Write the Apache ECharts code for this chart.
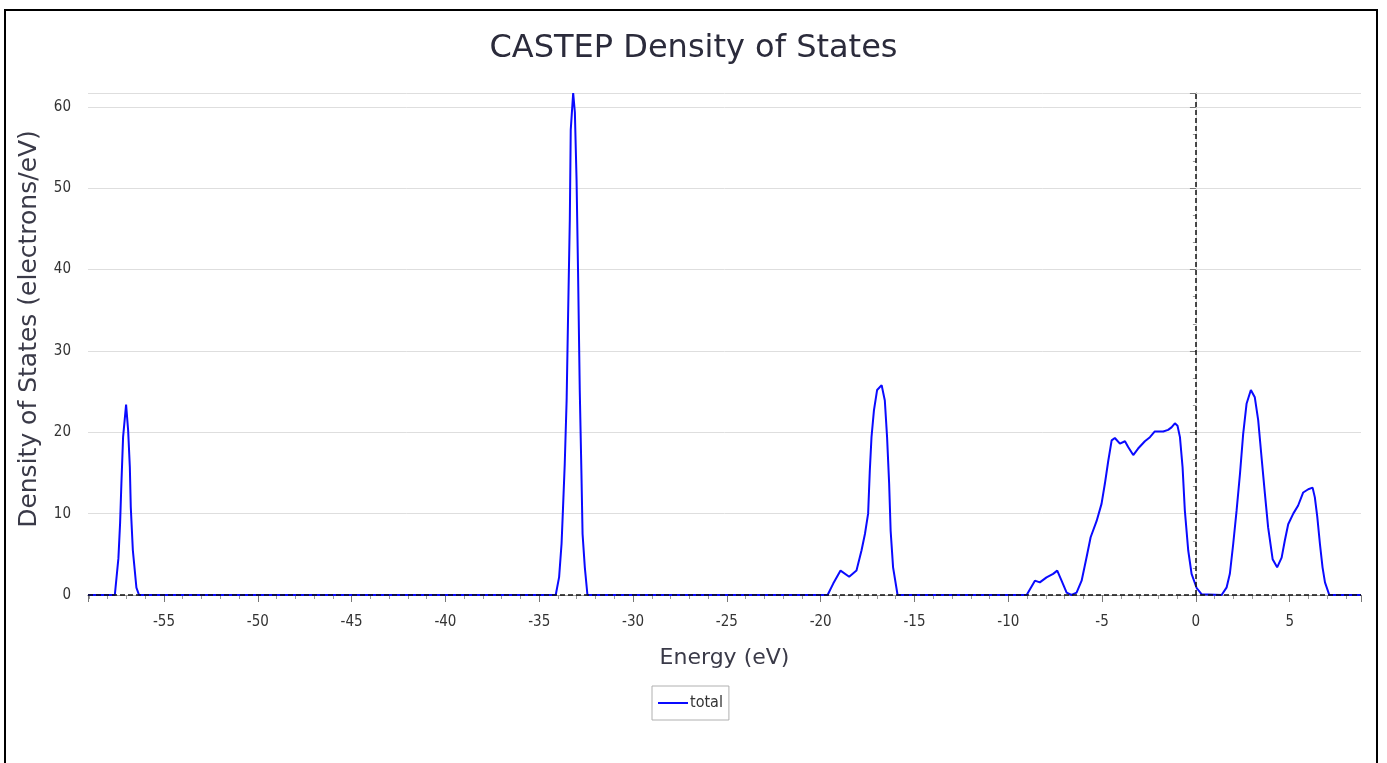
<!DOCTYPE html>
<html>
<head>
<meta charset="utf-8">
<title>CASTEP Density of States</title>
<script src="https://cdn.jsdelivr.net/npm/echarts@6/dist/echarts.min.js"></script>
<style>
  html, body { margin: 0; padding: 0; background: #fff; }
  #chart { width: 1387px; height: 763px; }
</style>
</head>
<body>
<div id="chart"></div>
<script>
// energy (eV) and total DOS (electrons/eV)
var energy = [
    -59.05, -57.62, -57.43, -57.34, -57.27, -57.18, -57.02, -56.91, -56.82, -56.77, -56.66, -56.47, -56.33,
    -34.12, -33.94, -33.81, -33.73, -33.64, -33.54, -33.46, -33.37, -33.32, -33.19, -33.10, -33.01, -32.93,
    -32.84, -32.75, -32.69, -32.57, -32.43,
    -19.63, -19.33, -18.94, -18.48, -18.09, -17.82, -17.64, -17.47, -17.38, -17.29, -17.16, -16.99, -16.75,
    -16.58, -16.46, -16.35, -16.27, -16.14, -15.90,
    -9.02, -8.58, -8.32, -7.96, -7.61, -7.39, -7.16, -6.89, -6.63, -6.36, -6.09, -5.83, -5.61, -5.29, -5.03,
    -4.85, -4.67, -4.49, -4.32, -4.05, -3.78, -3.61, -3.34, -3.08, -2.72, -2.45, -2.19, -1.74, -1.48, -1.30,
    -1.12, -0.98, -0.85, -0.71, -0.59, -0.41, -0.23, 0.04, 0.30, 0.37,
    1.37, 1.64, 1.81, 1.99, 2.17, 2.35, 2.52, 2.70, 2.93, 3.14, 3.32, 3.50, 3.68, 3.85, 4.09, 4.33, 4.57,
    4.74, 4.92, 5.19, 5.45, 5.72, 5.99, 6.22, 6.34, 6.47, 6.61, 6.75, 6.88, 7.11,
    8.80
];
var dos = [
    0, 0, 4.5, 8.8, 13.7, 19.4, 23.4, 20.2, 15.7, 10.8, 5.5, 0.9, 0,
    0, 2.2, 6.3, 10.8, 16.1, 23.9, 34.6, 46.1, 57.2, 61.7, 59.3, 51.0, 39.6,
    25.2, 14.9, 7.5, 3.4, 0,
    0, 1.4, 3.0, 2.25, 3.0, 5.5, 7.5, 10.0, 15.3, 19.4, 22.7, 25.2, 25.8,
    23.9, 19.4, 13.7, 7.9, 3.4, 0,
    0, 1.76, 1.55, 2.17, 2.6, 3.0, 1.76, 0.3, 0, 0.3, 1.76, 4.6, 7.1, 9.1, 11.2,
    13.7, 16.5, 19.0, 19.3, 18.6, 18.9, 18.2, 17.2, 18.0, 18.9, 19.4, 20.1, 20.1, 20.3, 20.6,
    21.1, 20.8, 19.4, 15.7, 10.4, 5.5, 2.6, 0.86, 0.1, 0,
    0, 0.94, 2.6, 6.3, 10.4, 14.9, 19.8, 23.5, 25.2, 24.3, 21.5, 16.9, 12.4, 8.3, 4.4, 3.4, 4.6,
    6.7, 8.7, 10.0, 11.0, 12.6, 13.0, 13.2, 12.0, 9.6, 6.3, 3.4, 1.55, 0,
    0
];
var xMin = -59.05, xMax = 8.8;
var yMax = 61.7;
var fermi = 0;

var points = energy.map(function (e, i) { return [e, dos[i]]; });

var myChart = echarts.init(document.getElementById('chart'));
var option = {
    animation: false,
    backgroundColor: '#fff',
    graphic: [{
        type: 'rect',
        shape: { x: 5, y: 10, width: 1372, height: 800 },
        style: { fill: 'none', stroke: '#000', lineWidth: 2 },
        silent: true
    }],
    title: {
        text: 'CASTEP Density of States',
        left: 'center',
        top: 28,
        textStyle: {
            fontFamily: 'DejaVu Sans',
            fontSize: 32,
            fontWeight: 'normal',
            color: '#2b2b3b'
        }
    },
    legend: {
        left: 652,
        top: 686,
        padding: [9, 6, 9, 6],
        borderColor: '#b0b0b0',
        borderWidth: 1,
        borderRadius: 0,
        itemWidth: 30,
        itemHeight: 2,
        itemGap: 4,
        icon: 'rect',
        textStyle: { fontFamily: 'DejaVu Sans Condensed', fontSize: 16, color: '#333', padding: [0, 0, 0, -3] },
        data: ['total']
    },
    grid: { left: 88, right: 26, top: 93, bottom: 168 },
    xAxis: [{
        type: 'value',
        min: xMin,
        max: xMax,
        splitNumber: 14,
        name: 'Energy (eV)',
        nameLocation: 'middle',
        nameGap: 52,
        nameTextStyle: { fontFamily: 'DejaVu Sans', fontSize: 22, color: '#3a3a48' },
        axisLine: { onZero: false, lineStyle: { color: '#777', width: 1 } },
        axisTick: { show: true, length: 7, lineStyle: { color: '#777' } },
        minorTick: { show: true, splitNumber: 5, length: 4, lineStyle: { color: '#999' } },
        axisLabel: {
            margin: 20, fontFamily: 'DejaVu Sans Condensed', fontSize: 15, color: '#333',
            showMinLabel: false, showMaxLabel: false
        },
        splitLine: { show: false }
    }, {
        type: 'value',
        position: 'top',
        min: xMin,
        max: xMax,
        axisLine: { show: true, lineStyle: { color: '#aaa', type: 'dotted', width: 1 } },
        axisTick: { show: false },
        axisLabel: { show: false },
        splitLine: { show: false }
    }],
    yAxis: [{
        type: 'value',
        min: 0,
        max: yMax,
        interval: 10,
        name: 'Density of States (electrons/eV)',
        nameLocation: 'middle',
        nameGap: 46,
        nameTextStyle: { fontFamily: 'DejaVu Sans', fontSize: 25, color: '#3a3a48', padding: [0, 0, 0, 30] },
        axisLine: { show: true, lineStyle: { color: '#777', width: 1 } },
        axisTick: { show: true, length: 6, lineStyle: { color: '#777' } },
        minorTick: { show: true, splitNumber: 3, length: 3, lineStyle: { color: '#999' } },
        axisLabel: {
            margin: 17, fontFamily: 'DejaVu Sans Condensed', fontSize: 15, color: '#333',
            showMaxLabel: false
        },
        splitLine: { show: true, lineStyle: { color: '#dedede', width: 1 } }
    }, {
        type: 'value',
        position: 'right',
        min: 0,
        max: yMax,
        axisLine: { show: true, lineStyle: { color: '#d8d8d8', width: 1 } },
        axisTick: { show: false },
        axisLabel: { show: false },
        splitLine: { show: false }
    }],
    series: [{
        name: 'total',
        type: 'line',
        data: points,
        showSymbol: false,
        symbol: 'none',
        lineStyle: { color: '#0a0aff', width: 2 },
        itemStyle: { color: '#0a0aff' },
        z: 2
    }, {
        name: 'ref',
        type: 'line',
        data: [],
        z: 5,
        markLine: {
            silent: true,
            symbol: 'none',
            label: { show: false },
            lineStyle: { color: '#111', type: [5, 3], width: 1.5 },
            data: [{ yAxis: 0 }, { xAxis: fermi }]
        }
    }]
};
myChart.setOption(option);
window.addEventListener('resize', function () {
    myChart.resize();
});
</script>
</body>
</html>
